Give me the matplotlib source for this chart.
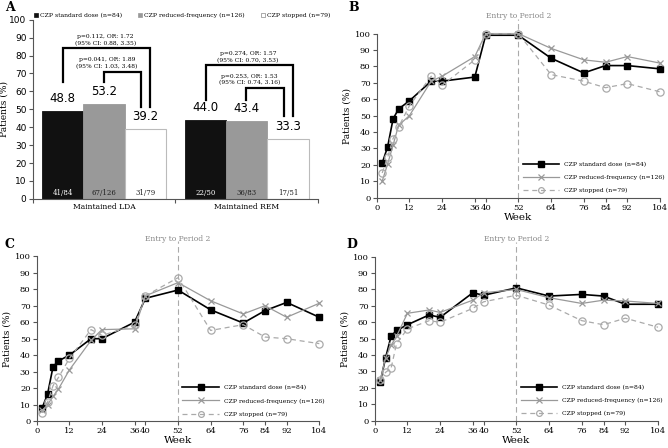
import matplotlib
matplotlib.use("Agg")
import matplotlib.pyplot as plt
import numpy as np
from matplotlib.patches import Patch

# -- Panel A data ------------------------------------------------------------
groups = ["Maintained LDA", "Maintained REM"]
bar_std = [48.8, 44.0]
bar_red = [53.2, 43.4]
bar_stop = [39.2, 33.3]
n_std = ["41/84", "22/50"]
n_red = ["67/126", "36/83"]
n_stop = ["31/79", "17/51"]
# (outer: standard vs stopped, inner: reduced vs stopped)
stat_outer = ["p=0.112, OR: 1.72\n(95% CI: 0.88, 3.35)",
              "p=0.274, OR: 1.57\n(95% CI: 0.70, 3.53)"]
stat_inner = ["p=0.041, OR: 1.89\n(95% CI: 1.03, 3.48)",
              "p=0.253, OR: 1.53\n(95% CI: 0.74, 3.16)"]
outer_top = [84, 74.5]
inner_top = [71, 62]
leg_left = [65.5, 55.3]
leg_right = [51.5, 46]

# -- Panels B-D data -----------------------------------------------------------
weeks = [2, 4, 6, 8, 12, 20, 24, 36, 40, 52, 64, 76, 84, 92, 104]
week_ticks = [0, 12, 24, 36, 40, 52, 64, 76, 84, 92, 104]

b_std = [21, 31, 48, 54, 59, 71, 71, 73.5, 99, 99, 85, 76, 80.5, 80.5, 78.5]
b_red = [10, 20.5, 32, 44, 50, 71, 74, 86, 100, 100, 91, 84, 82.5, 86, 82]
b_stop = [15, 24.5, 36, 43, 56, 74, 68.5, 84, 100, 100, 75, 71, 67, 69.5, 64.5]

c_std = [8, 16.5, 33, 36.5, 40, 50, 50, 60, 74.5, 79.5, 67.5, 59.5, 67, 72, 63]
c_red = [6.5, 10, 15, 19.5, 31, 49, 55.5, 56, 76, 84, 73, 65, 70, 63, 71.5]
c_stop = [5, 11.5, 21.5, 26.5, 38, 55.5, 52, 58, 76, 87, 55, 58.5, 51, 50, 47]

d_std = [23.5, 38.5, 51.5, 55, 58.5, 64.5, 63, 78, 76.5, 81, 76, 77, 76, 71, 71]
d_red = [24.5, 38.5, 46, 51.5, 65.5, 67.5, 66, 73.5, 78, 80, 75, 71.5, 73.5, 73, 71.5]
d_stop = [24.5, 29.5, 32, 47, 56, 61, 60, 68.5, 72.5, 76.5, 70.5, 61, 58.5, 62.5, 57]

lbl_std = "CZP standard dose (n=84)"
lbl_red = "CZP reduced-frequency (n=126)"
lbl_stop = "CZP stopped (n=79)"

SERIF = "DejaVu Serif"
SANS = "DejaVu Sans"
GREY = "#999999"
LIGHT = "#aaaaaa"

plt.rcParams["font.family"] = SERIF
plt.rcParams["axes.linewidth"] = 0.8

fig = plt.figure(figsize=(6.68, 4.48), dpi=100)


def style_axes(ax):
    for s in ["top", "right"]:
        ax.spines[s].set_visible(False)
    for s in ["left", "bottom"]:
        ax.spines[s].set_color("#555555")
    ax.tick_params(direction="out", length=3, width=0.8, color="#555555",
                   labelsize=6, pad=1.5)


# -- Panel A ------------------------------------------------------------------
axA = fig.add_axes([0.049, 0.556, 0.427, 0.40])
style_axes(axA)
x = np.arange(len(groups))
w = 0.29
axA.bar(x - w, bar_std, w, color="#111111", edgecolor="#111111", lw=0.6)
axA.bar(x, bar_red, w, color=GREY, edgecolor=GREY, lw=0.6)
axA.bar(x + w, bar_stop, w, color="white", edgecolor="#bbbbbb", lw=0.8)

for i in range(len(groups)):
    for xo, v, n, c in [(-w, bar_std[i], n_std[i], "white"),
                        (0, bar_red[i], n_red[i], "#222222"),
                        (w, bar_stop[i], n_stop[i], "#222222")]:
        axA.text(i + xo, v + 7, f"{v:.1f}", ha="center", va="center",
                 fontsize=8.5, family=SANS)
        axA.text(i + xo, 3.3, n, ha="center", va="center", fontsize=5, color=c)

    # brackets
    xl_o, xr_o = i - w + 0.004, i + w + 0.035
    xl_i, xr_i = i - 0.002, i + w - 0.028
    axA.plot([xl_o, xl_o, xr_o, xr_o],
             [leg_left[i], outer_top[i], outer_top[i], leg_right[i]],
             color="black", lw=1.6, solid_joinstyle="miter")
    axA.plot([xl_i, xl_i, xr_i, xr_i],
             [leg_left[i], inner_top[i], inner_top[i], leg_right[i]],
             color="black", lw=1.6, solid_joinstyle="miter")
    axA.text(i + 0.01, outer_top[i] + 1.5, stat_outer[i], ha="center",
             va="bottom", fontsize=4.3, linespacing=1.35)
    axA.text(i + 0.02, inner_top[i] + 1.5, stat_inner[i], ha="center",
             va="bottom", fontsize=4.3, linespacing=1.35)

axA.set_xlim(-0.5, 1.5)
axA.set_ylim(0, 100)
axA.set_yticks(range(0, 101, 10))
axA.set_yticklabels([str(v) for v in range(0, 101, 10)], family=SANS,
                    fontsize=6.5)
axA.set_xticks([-0.5, 0.5, 1.5])
axA.set_xticklabels([])
axA.set_xticks(x, minor=True)
axA.set_xticklabels(groups, minor=True, fontsize=5.5)
axA.tick_params(axis="x", which="minor", length=0, pad=3)
axA.set_ylabel("Patients (%)", fontsize=6.5)
axA.yaxis.set_label_coords(-0.085, 0.5)
handles = [Patch(facecolor="#111111", edgecolor="#111111", lw=0.5),
           Patch(facecolor=GREY, edgecolor=GREY, lw=0.5),
           Patch(facecolor="white", edgecolor="#888888", lw=0.5)]
axA.legend(handles, [lbl_std, lbl_red, lbl_stop], ncol=3, frameon=False,
           loc="lower left", bbox_to_anchor=(-0.005, 0.995), fontsize=4.4,
           handlelength=0.7, handleheight=0.7, handletextpad=0.3,
           columnspacing=2.6, borderaxespad=0)


# -- Panels B-D ----------------------------------------------------------------
def line_panel(rect, std, red, stop):
    ax = fig.add_axes(rect)
    style_axes(ax)
    ax.plot(weeks, std, color="black", lw=1.2, marker="s", ms=4.8,
            mfc="black", mec="black", label=lbl_std, clip_on=False, zorder=3)
    ax.plot(weeks, red, color=GREY, lw=0.9, marker="x", ms=5, mew=0.9,
            label=lbl_red, clip_on=False, zorder=4)
    ax.plot(weeks, stop, color=LIGHT, lw=0.9, ls=(0, (4, 3)), marker="o",
            ms=5.2, mfc="none", mec=LIGHT, mew=0.9, label=lbl_stop,
            clip_on=False, zorder=5)
    ax.plot([52, 52], [0, 109], color=LIGHT, lw=0.8, ls=(0, (5, 3)),
            clip_on=False, zorder=1)
    ax.text(52, 110.5, "Entry to Period 2", ha="center", va="center",
            fontsize=5.5, color="#888888")
    ax.set_xlim(0, 104)
    ax.set_ylim(0, 100)
    ax.set_xticks(week_ticks)
    ax.set_yticks(range(0, 101, 10))
    ax.set_xlabel("Week", fontsize=7.5, labelpad=0.5)
    ax.set_ylabel("Patients (%)", fontsize=6.5, labelpad=2)
    ax.legend(loc="lower left", bbox_to_anchor=(0.5, 0.0), frameon=False,
              fontsize=4.4, handlelength=6, labelspacing=1.3,
              markerscale=0.8, borderaxespad=0.3)
    return ax


line_panel([0.564, 0.559, 0.424, 0.366], b_std, b_red, b_stop)
line_panel([0.055, 0.060, 0.423, 0.368], c_std, c_red, c_stop)
line_panel([0.561, 0.061, 0.424, 0.366], d_std, d_red, d_stop)

for lbl, xx, yy in [("A", 0.008, 0.998), ("B", 0.522, 0.998),
                    ("C", 0.006, 0.468), ("D", 0.518, 0.468)]:
    fig.text(xx, yy, lbl, fontsize=9, fontweight="bold", va="top")

fig.savefig("out.png", dpi=100)
